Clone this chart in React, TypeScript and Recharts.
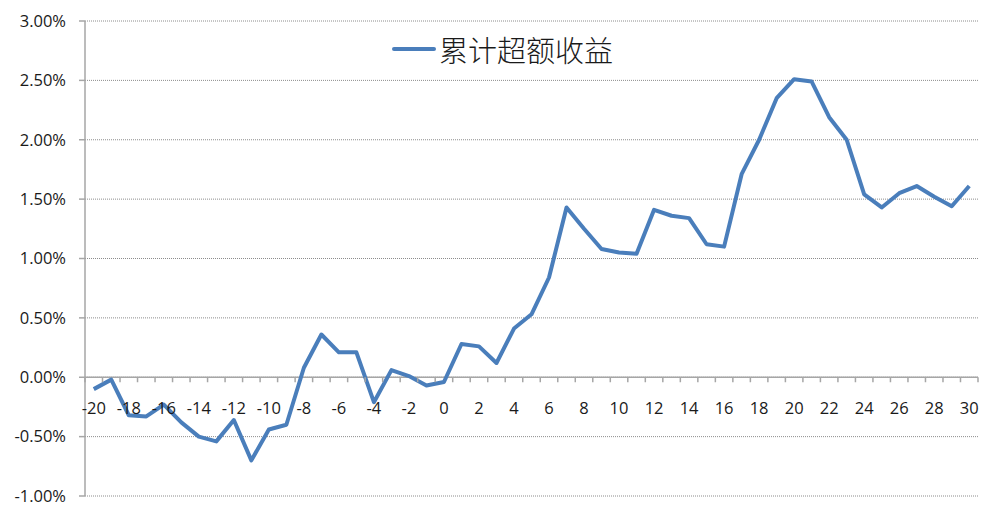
import React from 'react';
import { LineChart, Line, XAxis, YAxis, CartesianGrid, ReferenceLine, Legend } from 'recharts';

// Event-window days, relative to day 0
const days = [
  -20, -19, -18, -17, -16, -15, -14, -13, -12, -11,
  -10, -9, -8, -7, -6, -5, -4, -3, -2, -1,
  0, 1, 2, 3, 4, 5, 6, 7, 8, 9,
  10, 11, 12, 13, 14, 15, 16, 17, 18, 19,
  20, 21, 22, 23, 24, 25, 26, 27, 28, 29, 30,
];

// Cumulative excess return, in percent
const excessReturn = [
  -0.10, -0.02, -0.32, -0.33, -0.23, -0.38, -0.50, -0.54, -0.36, -0.70,
  -0.44, -0.40, 0.08, 0.36, 0.21, 0.21, -0.21, 0.06, 0.01, -0.07,
  -0.04, 0.28, 0.26, 0.12, 0.41, 0.53, 0.84, 1.43, 1.25, 1.08,
  1.05, 1.04, 1.41, 1.36, 1.34, 1.12, 1.10, 1.71, 2.00, 2.35,
  2.51, 2.49, 2.19, 2.00, 1.54, 1.43, 1.55, 1.61, 1.52, 1.44, 1.61,
];

const yTicks = [-1, -0.5, 0, 0.5, 1, 1.5, 2, 2.5, 3];
const xLabelDays = [-20, -18, -16, -14, -12, -10, -8, -6, -4, -2, 0, 2, 4, 6, 8, 10, 12, 14, 16, 18, 20, 22, 24, 26, 28, 30];
const seriesName = '累计超额收益';

const data = days.map((day, i) => ({ day, value: excessReturn[i] }));

// Layout
const WIDTH = 990;
const HEIGHT = 513;
const X_AXIS_HEIGHT = 2;
const MARGIN = { top: 21, right: 12, bottom: 17 - X_AXIS_HEIGHT, left: 0 };
const Y_AXIS_WIDTH = 85;
const Y_MIN = yTicks[0];
const Y_MAX = yTicks[yTicks.length - 1];
const PLOT_TOP = MARGIN.top;
const PLOT_BOTTOM = HEIGHT - MARGIN.bottom - X_AXIS_HEIGHT;
const PLOT_WIDTH = WIDTH - MARGIN.right - MARGIN.left - Y_AXIS_WIDTH;
const STEP = PLOT_WIDTH / days.length;
const ZERO_Y = PLOT_TOP + ((PLOT_BOTTOM - PLOT_TOP) * (Y_MAX - 0)) / (Y_MAX - Y_MIN);

const AXIS_COLOR = '#a6a6a6';
const TEXT_COLOR = '#1a1a1a';
const LINE_COLOR = '#4a7ebb';
const FONT = "'Open Sans', 'DejaVu Sans', sans-serif";

// Category axis drawn along the zero line: boundary ticks between days, labels on even days
const ZeroAxisTick = (props: any) => {
  const { x, payload, index } = props;
  const left = x - STEP / 2;
  const isLast = index === days.length - 1;
  const showLabel = xLabelDays.includes(payload.value);
  return (
    <g>
      <line x1={left} x2={left} y1={ZERO_Y} y2={ZERO_Y + 5} stroke={AXIS_COLOR} strokeWidth={1.5} />
      {isLast && (
        <line x1={x + STEP / 2} x2={x + STEP / 2} y1={ZERO_Y} y2={ZERO_Y + 5} stroke={AXIS_COLOR} strokeWidth={1.5} />
      )}
      {showLabel && (
        <text x={x} y={ZERO_Y + 37} textAnchor="middle" fill={TEXT_COLOR} fontSize={16.5} fontFamily={FONT}>
          {payload.value}
        </text>
      )}
    </g>
  );
};

const LegendContent = () => (
  <div style={{ display: 'flex', alignItems: 'center', whiteSpace: 'nowrap' }}>
    <svg width={44} height={8} style={{ marginRight: 3 }}>
      <line x1={2} x2={42} y1={4} y2={4} stroke={LINE_COLOR} strokeWidth={4} strokeLinecap="round" />
    </svg>
    <span
      style={{
        fontFamily: "'Noto Sans CJK SC', sans-serif",
        fontSize: 29,
        fontWeight: 300,
        color: TEXT_COLOR,
        lineHeight: '36px',
      }}
    >
      {seriesName}
    </span>
  </div>
);

export default function App() {
  return (
    <div style={{ position: 'absolute', left: 0, top: 0, width: WIDTH, height: HEIGHT, background: '#fff' }}>
      <LineChart width={WIDTH} height={HEIGHT} data={data} margin={MARGIN}>
        <CartesianGrid vertical={false} stroke="#8c8c8c" strokeDasharray="1 1" />
        <XAxis
          dataKey="day"
          type="number"
          domain={[days[0] - 0.5, days[days.length - 1] + 0.5]}
          ticks={days}
          interval={0}
          height={X_AXIS_HEIGHT}
          axisLine={false}
          tickLine={false}
          tick={<ZeroAxisTick />}
          allowDataOverflow
        />
        <YAxis
          width={Y_AXIS_WIDTH}
          domain={[Y_MIN, Y_MAX]}
          ticks={yTicks}
          interval={0}
          allowDataOverflow
          tickFormatter={(v: number) => `${v.toFixed(2)}%`}
          tick={{ fill: TEXT_COLOR, fontSize: 16.5, fontFamily: FONT }}
          tickSize={6}
          tickMargin={13}
          axisLine={{ stroke: AXIS_COLOR, strokeWidth: 1.5 }}
          tickLine={{ stroke: AXIS_COLOR, strokeWidth: 1.5 }}
        />
        <ReferenceLine y={0} stroke={AXIS_COLOR} strokeWidth={1.5} />
        <Legend
          layout="horizontal"
          verticalAlign="middle"
          align="center"
          content={<LegendContent />}
          wrapperStyle={{ top: 31, left: 392, width: 270, height: 36 }}
        />
        <Line
          type="linear"
          dataKey="value"
          name={seriesName}
          stroke={LINE_COLOR}
          strokeWidth={4}
          strokeLinejoin="round"
          dot={false}
          activeDot={false}
          isAnimationActive={false}
        />
      </LineChart>
    </div>
  );
}
